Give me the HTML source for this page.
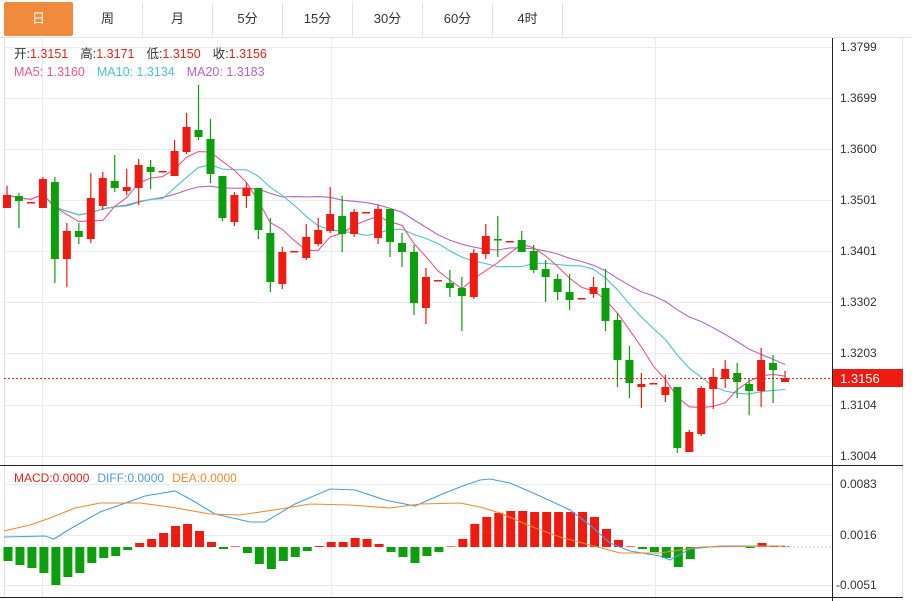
<!DOCTYPE html>
<html><head><meta charset="utf-8"><style>
body{margin:0;background:#fff;width:912px;height:601px;overflow:hidden;font-family:"Liberation Sans","Noto Sans CJK SC",sans-serif;}
.tabs{position:absolute;left:0;top:0;height:37px;width:912px;}
.tab{position:absolute;top:2px;height:34px;line-height:34px;text-align:center;font-size:13px;color:#333;border-right:1px solid #e3e3e3;box-sizing:border-box;}
</style></head><body>
<div class="tabs">
<div class="tab" style="left:4px;width:69px;background:#f08a3c;color:#fff;border-radius:2px;border:none">日</div>
<div class="tab" style="left:73px;width:70px">周</div>
<div class="tab" style="left:143px;width:70px">月</div>
<div class="tab" style="left:213px;width:70px">5分</div>
<div class="tab" style="left:283px;width:70px">15分</div>
<div class="tab" style="left:353px;width:70px">30分</div>
<div class="tab" style="left:423px;width:70px">60分</div>
<div class="tab" style="left:493px;width:70px">4时</div>
</div>
<svg id="s" width="912" height="601" style="position:absolute;left:0;top:0" xmlns="http://www.w3.org/2000/svg" font-family="Liberation Sans, Noto Sans CJK SC, sans-serif">
<line x1="0" y1="37.5" x2="912" y2="37.5" stroke="#e3e3e3"/>
<g id="grid" stroke="#e8ebef" stroke-width="1"></g>
<line x1="4.5" y1="38" x2="4.5" y2="597" stroke="#e3e3e3"/>
<line x1="902.5" y1="38" x2="902.5" y2="597" stroke="#e3e3e3"/>
<g id="ma"></g>
<g id="c"></g>
<g id="m"></g>
<line x1="4" y1="378.5" x2="832" y2="378.5" stroke="#e0241c" stroke-dasharray="2,2"/>
<line x1="0" y1="465.5" x2="903" y2="465.5" stroke="#222"/>
<line x1="0" y1="597.5" x2="903" y2="597.5" stroke="#222"/>
<line x1="832.5" y1="38" x2="832.5" y2="601" stroke="#222"/>
<g font-size="12" fill="#333">
<text x="840" y="51">1.3799</text><text x="840" y="102">1.3699</text><text x="840" y="153">1.3600</text>
<text x="840" y="204">1.3501</text><text x="840" y="255">1.3401</text><text x="840" y="306">1.3302</text>
<text x="840" y="357">1.3203</text><text x="840" y="409">1.3104</text><text x="840" y="460">1.3004</text>
<text x="840" y="488">0.0083</text><text x="840" y="539">0.0016</text><text x="836" y="589">-0.0051</text>
</g>
<rect x="833" y="369" width="70" height="18" fill="#ee1b12"/>
<text x="840" y="383" font-size="13" fill="#fff">1.3156</text>
<g font-size="12.5">
<text x="14" y="58"><tspan fill="#333">开:</tspan><tspan fill="#e0241c">1.3151</tspan><tspan fill="#333" dx="12">高:</tspan><tspan fill="#e0241c">1.3171</tspan><tspan fill="#333" dx="12">低:</tspan><tspan fill="#e0241c">1.3150</tspan><tspan fill="#333" dx="12">收:</tspan><tspan fill="#e0241c">1.3156</tspan></text>
<text x="14" y="76"><tspan fill="#e8588a">MA5: 1.3160</tspan><tspan fill="#4fc3d0" dx="12">MA10: 1.3134</tspan><tspan fill="#b465c8" dx="12">MA20: 1.3183</tspan></text>
<text x="14" y="482" font-size="12"><tspan fill="#e0241c">MACD:0.0000</tspan><tspan fill="#4a9ee0" dx="8">DIFF:0.0000</tspan><tspan fill="#f08a30" dx="8">DEA:0.0000</tspan></text>
</g>
</svg>
<script>
var NS="http://www.w3.org/2000/svg";
function el(t,a,p){var e=document.createElementNS(NS,t);for(var k in a)e.setAttribute(k,a[k]);document.getElementById(p).appendChild(e);return e;}
[47,98,149,200,251,302,353,405,456,484,535,585].forEach(function(y){el("line",{x1:4,y1:y+.5,x2:832,y2:y+.5},"grid");});
[42,331,655].forEach(function(x){el("line",{x1:x+.5,y1:38,x2:x+.5,y2:597},"grid");});
var D=[["R",195,208,186,208],["G",196,201,193,228],["R",202,202],["R",179,208,177,208],["G",182,259,177,283],["R",231,259,223,287],["G",231,237,223,244],["R",198,239,173,243],["R",178,206,172,210],["G",181,188,155,192],["R",187,191,169,195],["R",165,188,159,205],["G",167,172,160,189],["R",171,171],["R",151,176,140,176],["R",127,152,113,154],["G",130,137,85,140],["G",139,174,119,183],["G",176,218,176,221],["R",195,222,192,226],["R",188,196,183,208],["G",188,230,188,239],["G",233,282,218,292],["R",252,284,247,289],["R",251,251],["R",237,258,224,260],["R",230,244,218,246],["R",214,231,187,233],["G",216,234,196,252],["R",212,234,209,237],["R",212,212],["R",209,238,205,244],["G",209,242,209,257],["G",243,252,233,267],["G",252,303,245,315],["R",277,308,268,324],["R",280,280],["G",283,288,270,297],["G",288,296,277,331],["R",253,297,249,299],["R",236,254,224,259],["G",239,240,216,257],["R",241,241],["G",240,252,231,252],["G",251,270,245,273],["G",269,277,260,302],["G",279,292,274,300],["G",292,300,274,310],["R",298,298],["R",287,294,277,298],["G",288,321,269,331],["G",320,360,313,387],["G",360,383,346,398],["R",384,387,373,408],["R",383,383],["R",387,395,375,402],["G",387,448,387,453],["R",432,452,430,452],["R",388,434,386,436],["R",377,389,368,409],["R",369,379,360,388],["G",373,382,363,398],["G",384,391,378,415],["R",360,391,348,407],["G",363,370,355,403],["R",378,382,371,382]];
var RC="#ee1b12",GC="#0c9e0c",closes=[];
D.forEach(function(d,i){var x=7+i*11.97,c=d[0]=="R"?RC:GC;
 if(d.length>3)el("line",{x1:x,y1:d[3],x2:x,y2:d[4],stroke:c,"stroke-width":1.2},"c");
 var h=Math.max(d[2]-d[1],1.5);el("rect",{x:x-4,y:d[1],width:8,height:h,fill:c},"c");
 closes.push(d[0]=="R"?d[1]:d[2]);});
function ma(n,col){var pts=[];for(var i=0;i<closes.length;i++){var s=0,k=0;for(var j=Math.max(0,i-n+1);j<=i;j++){s+=closes[j];k++;}pts.push((7+i*11.97).toFixed(1)+","+(s/k).toFixed(1));}
 el("polyline",{points:pts.join(" "),fill:"none",stroke:col,"stroke-width":1.1},"ma");}
ma(20,"#b465c8");ma(10,"#4fc3d0");ma(5,"#e8588a");
var H=[-14,-18,-21,-26,-38,-30,-26,-16,-11,-9,-3,4,8,14,21,23,16,5,-2,0,-6,-17,-22,-14,-10,-4,1,5,5,9,8,3,-5,-10,-16,-9,-5,0,8,23,30,34,36,36,35,35,35,35,35,30,18,7,0,-2,-5,-11,-20,-12,-1,0,0,0,-1,4,1,0];
H.forEach(function(v,i){var x=8+i*11.97;if(v==0)v=0.6;var y=v>0?547-v:547;el("rect",{x:x-4.5,y:y,width:9,height:Math.abs(v),fill:v>0?RC:GC},"m");});
el("line",{x1:785,y1:547,x2:832,y2:547,stroke:"#a8d8e8","stroke-dasharray":"2,2"},"m");
el("polyline",{points:"4,537 45,536 54,539 70,529 100,512 120,505 145,496 175,491 190,499 215,514 250,522 265,522 295,504 330,489 355,490 385,500 415,506 440,495 460,487 480,480 490,479 510,483 540,496 570,510 590,525 610,543 630,551 660,556 670,560 690,549 720,546 740,546 785,546",fill:"none",stroke:"#4a9ee0","stroke-width":1.1},"m");
el("polyline",{points:"4,531 30,525 50,518 75,508 100,503 140,503 170,507 210,514 240,515 280,509 310,504 350,505 390,508 420,504 460,503 480,507 500,513 530,526 560,537 590,545 620,553 660,553 700,547 785,546",fill:"none",stroke:"#f08a30","stroke-width":1.1},"m");
</script>
</body></html>
